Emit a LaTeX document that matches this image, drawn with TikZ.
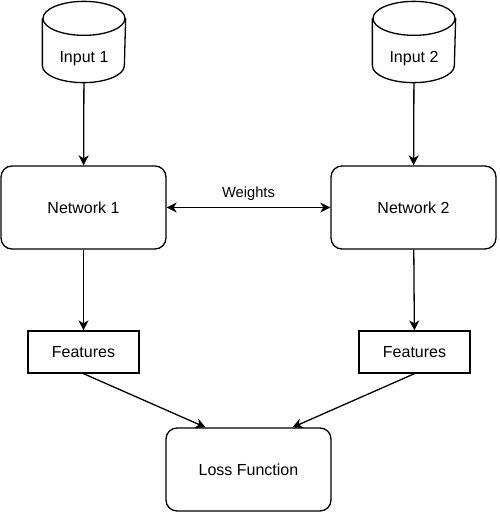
\documentclass[tikz,border=0pt]{standalone}
\usepackage{fontspec}
\setmainfont{Liberation Sans}
\usetikzlibrary{arrows.meta}

\tikzset{>={Stealth[length=10pt,width=10pt,inset=3pt]},
  netbox/.style={draw,rounded corners=11pt,minimum width=165pt,minimum height=83pt},
  featbox/.style={draw,minimum width=111pt,minimum height=42pt},
  dbase/.style={minimum width=82pt,minimum height=46pt}}

\begin{document}
\begin{tikzpicture}[x=1pt,y=-1pt,line width=1.3pt,font=\fontsize{16pt}{19pt}\selectfont]
\useasboundingbox (0,0) rectangle (499,512);
\node[dbase] (in1) at (84,59) {Input 1}; \node[dbase] (in2) at (414,59) {Input 2};
\foreach \n in {in1,in2} {\draw ([yshift=17pt]\n.north) ellipse [x radius=41pt,
  y radius=17pt]; \draw ([yshift=17pt]\n.north west) -- ([yshift=17pt]\n.south
  west) arc [start angle=180, end angle=360, x radius=41pt, y radius=17pt] --
  ([yshift=17pt]\n.north east);}
\node[netbox] (net1) at (83.5,207.5) {Network 1}; \node[netbox] (net2) at
  (413.5,207.5) {Network 2};
\node[featbox] (feat1) at (83.5,352) {Features}; \node[featbox] (feat2) at
  (414.5,352) {Features};
\node[netbox] (loss) at (248.5,469.5) {Loss Function};
\draw[->] (in1) -- (net1); \draw[->] (in2) -- (net2);
\draw[<->] (net1) -- node[above=3pt,font=\fontsize{14.7pt}{17pt}\selectfont]
  {Weights} (net2);
\draw[->] (net1) -- (feat1); \draw[->] (net2) -- (feat2);
\draw[->] (feat1.south) -- ([xshift=-43pt]loss.north);
\draw[->] (feat2.south) -- ([xshift=44pt]loss.north);
\end{tikzpicture}
\end{document}
